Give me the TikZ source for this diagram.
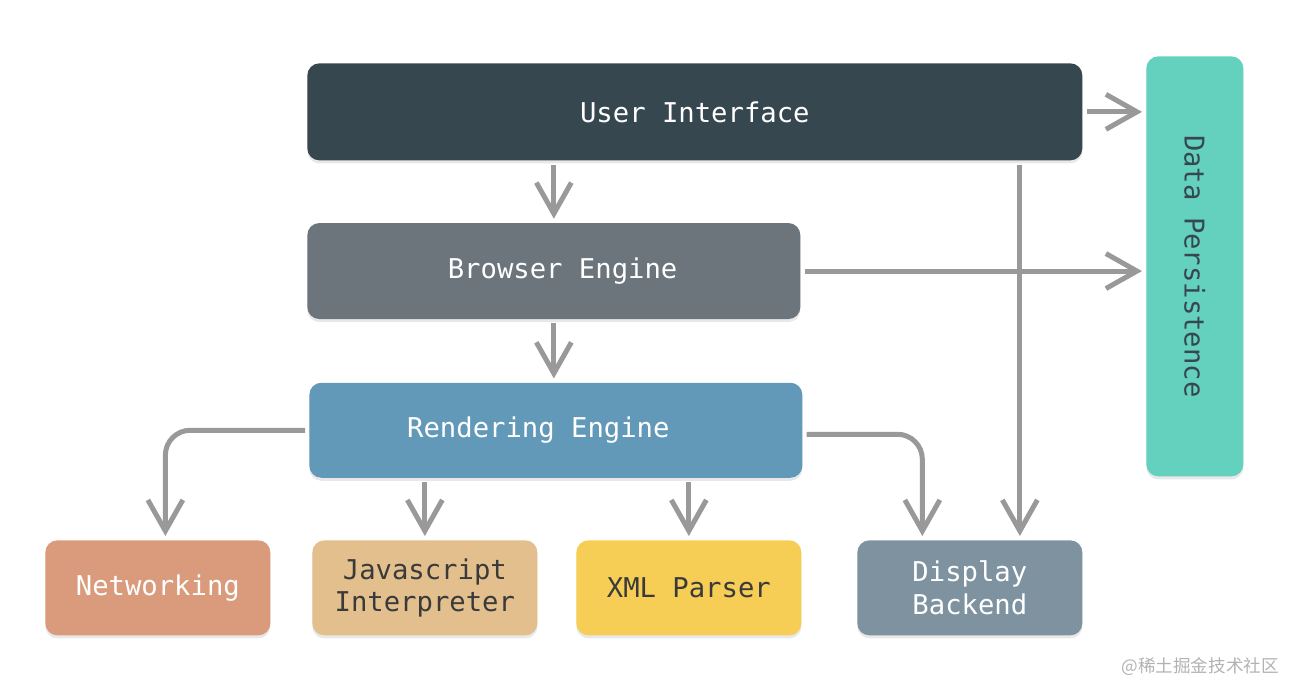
\documentclass[tikz,border=0pt]{standalone}
\usepackage{fontspec}
\setmonofont{DejaVu Sans Mono}
\newfontfamily\cjk{Noto Sans CJK SC}
\usetikzlibrary{arrows.meta,positioning,calc,shadows}
\definecolor{uidark}{HTML}{37474F}
\definecolor{engine}{HTML}{6C747C}
\definecolor{render}{HTML}{6399B8}
\definecolor{persist}{HTML}{63D1BE}
\definecolor{netfill}{HTML}{D99B7C}
\definecolor{jsfill}{HTML}{E2BF8D}
\definecolor{xmlfill}{HTML}{F7CE55}
\definecolor{dispfill}{HTML}{7E939F}
\definecolor{textdark}{HTML}{3A3A3A}
\definecolor{arrowgray}{HTML}{999999}
\tikzset{
  blk/.style={rounded corners=0.24cm, anchor=north west, align=center, inner sep=0pt,
    font=\ttfamily\fontsize{15.5}{18.5}\selectfont, text=white,
    drop shadow={shadow xshift=0pt, shadow yshift=-0.06cm, opacity=0.18}},
  lowblk/.style={blk, minimum width=4.5cm, minimum height=1.9cm},
  arr/.style={-{Straight Barb[length=0.62cm,width=0.7cm]}, line width=0.1cm, draw=arrowgray,
    shorten <=0.08cm, shorten >=0.08cm},
  elbowarr/.style={arr, rounded corners=0.5cm}
}
\begin{document}
\begin{tikzpicture}
\useasboundingbox (0,0) rectangle (26.08,-13.94);
\node[blk, fill=uidark, minimum width=15.5cm, minimum height=1.94cm] (ui) at (6.14,-1.26) {User Interface};
\node[blk, fill=engine, minimum width=9.86cm, minimum height=1.92cm, below=1.24cm of ui.south west, anchor=north west] (brow) {\hspace*{0.35cm}Browser Engine};
\node[blk, fill=render, minimum width=9.86cm, minimum height=1.9cm, below=1.26cm of brow.south west, anchor=north west, xshift=0.04cm] (ren) {Rendering Engine\hspace*{0.7cm}};
\node[blk, fill=persist, minimum width=1.94cm, minimum height=8.4cm, text=uidark] (dp) at (22.92,-1.12) {};
\node[rotate=-90, font=\ttfamily\fontsize{15.5}{17}\selectfont, text=uidark] (dptxt) at (dp.center) {Data Persistence};
\node[lowblk, fill=netfill] (net) at (0.9,-10.8) {Networking};
\node[lowblk, fill=jsfill, text=textdark] (js) at (6.24,-10.8) {Javascript\\Interpreter};
\node[lowblk, fill=xmlfill, text=textdark] (xml) at (11.52,-10.8) {XML Parser};
\node[lowblk, fill=dispfill] (disp) at (17.14,-10.8) {Display\\Backend};
% arrows
\coordinate (dl) at ($(disp.north)+(-0.95,0)$);
\coordinate (dr) at ($(disp.north)+(1.0,0)$);
\draw[arr] (ui.east) -- (ui.east -| dp.west);
\draw[arr] (ui.south -| brow.north) -- (brow.north);
\draw[arr] (brow.east) -- (brow.east -| dp.west);
\draw[arr] (brow.south) -- (ren.north -| brow.south);
\draw[arr] (ui.south -| dr) -- (dr);
\draw[elbowarr] (ren.west) -| ($(net.north)+(0.15,0)$);
\draw[arr] (ren.south -| js.north) -- (js.north);
\draw[arr] (ren.south -| xml.north) -- (xml.north);
\draw[elbowarr] ($(ren.east)+(0,-0.08)$) -| (dl);
\node[font=\cjk\fontsize{10}{12}\selectfont, text=black!30, anchor=east] (wm) at (25.7,-13.34) {@稀土掘金技术社区};
\end{tikzpicture}
\end{document}
